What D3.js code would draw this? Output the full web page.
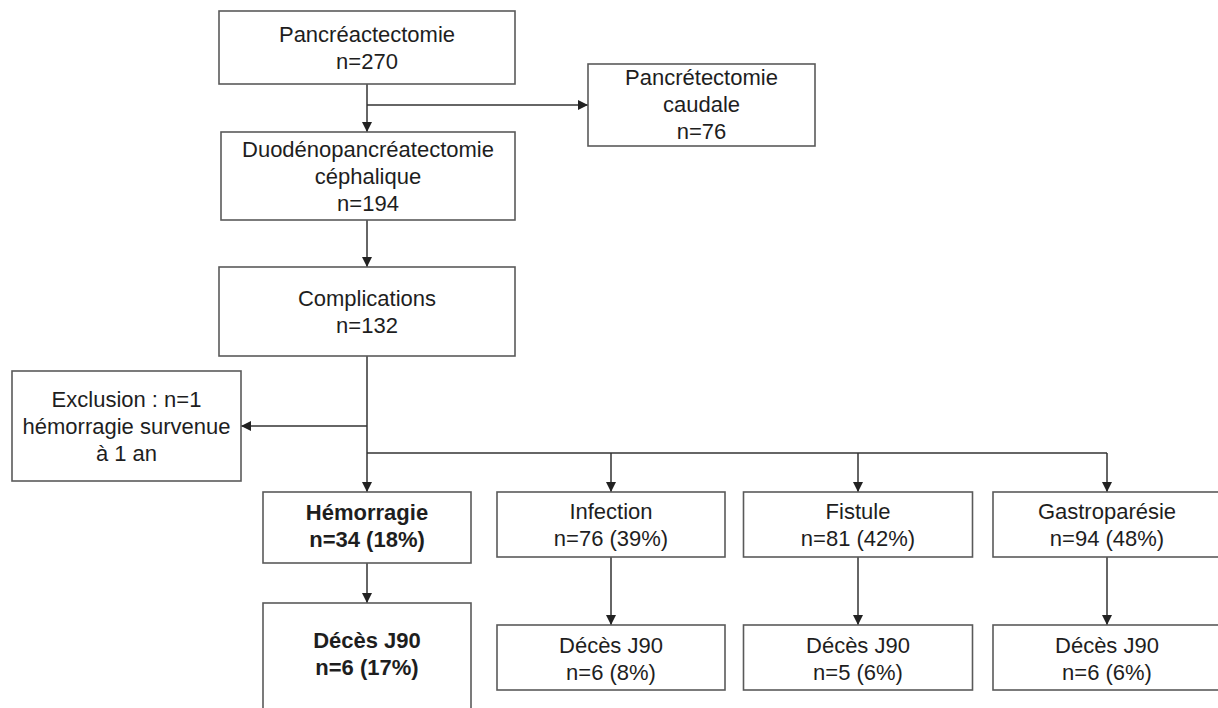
<!DOCTYPE html>
<html>
<head>
<meta charset="utf-8">
<script src="https://cdn.jsdelivr.net/npm/d3@7/dist/d3.min.js"></script>
<style>
  html, body { margin: 0; padding: 0; background: #fff; }
  svg { display: block; }
  text { font-family: "Liberation Sans", Arial, sans-serif; font-size: 22px; fill: #1e1e1e; }
</style>
</head>
<body>
<svg id="chart" width="1218" height="708"></svg>
<script>
// ---------------- DATA ----------------
const mainStages = ["Pancréactectomie", "Duodénopancréatectomie|céphalique", "Complications"];
const mainStageN = [270, 194, 132];
const sideStage = "Pancrétectomie|caudale";
const sideStageN = 76;
const exclusionText = "Exclusion : n=1|hémorragie survenue|à 1 an";
const complications = ["Hémorragie", "Infection", "Fistule", "Gastroparésie"];
const complicationN = [34, 76, 81, 94];
const complicationPct = [18, 39, 42, 48];
const deathLabel = "Décès J90";
const deathN = [6, 6, 5, 6];
const deathPct = [17, 8, 6, 6];

// ---------------- LAYOUT ----------------
const svg = d3.select("#chart");
const LINE = 27;

// column scale for bottom row (centre x of each column)
const colX = d3.scalePoint().domain(complications).range([367, 1107]);
// custom centres measured (slightly uneven spacing)
const colCentre = { "Hémorragie": 367, "Infection": 611, "Fistule": 858, "Gastroparésie": 1107 };
const colHalfW = { "Hémorragie": 104, "Infection": 114, "Fistule": 114.5, "Gastroparésie": 114 };

const nodes = [];
// main column boxes
const mainBoxes = [
  { x0: 219, x1: 515, y0: 11, y1: 84 },
  { x0: 221, x1: 515, y0: 132, y1: 220 },
  { x0: 219, x1: 515, y0: 267, y1: 356 }
];
mainStages.forEach((s, i) => {
  nodes.push(Object.assign({ lines: s.split("|").concat(["n=" + mainStageN[i]]), bold: false, off: 8 }, mainBoxes[i]));
});
nodes.push({ x0: 588, x1: 815, y0: 64, y1: 146, lines: sideStage.split("|").concat(["n=" + sideStageN]), bold: false, off: 7 });
nodes.push({ x0: 12, x1: 241, y0: 371, y1: 481, lines: exclusionText.split("|"), bold: false, off: 8 });
complications.forEach((c, i) => {
  const cx = colCentre[c], hw = colHalfW[c];
  const first = i === 0;
  nodes.push({ x0: cx - hw, x1: cx + hw, y0: 492, y1: first ? 563 : 557,
    lines: [c, "n=" + complicationN[i] + " (" + complicationPct[i] + "%)"], bold: first, off: first ? 6 : 7.5 });
  nodes.push({ x0: cx - hw, x1: cx + hw, y0: first ? 603 : 625, y1: first ? 730 : 690,
    lines: [deathLabel, "n=" + deathN[i] + " (" + deathPct[i] + "%)"], bold: first,
    cyOverride: first ? 652.5 : null, off: 8.5 });
});

// arrowhead marker
svg.append("defs").append("marker")
  .attr("id", "arr").attr("viewBox", "0 0 10 10")
  .attr("refX", 10).attr("refY", 5)
  .attr("markerWidth", 10).attr("markerHeight", 10)
  .attr("markerUnits", "userSpaceOnUse")
  .attr("orient", "auto")
  .append("path").attr("d", "M0,0 L10,5 L0,10 Z").attr("fill", "#222");

// connectors
const cX = 367;
const line = d3.line();
const links = [
  { p: [[cX, 84], [cX, 132]], arrow: true },
  { p: [[cX, 105], [588, 105]], arrow: true },
  { p: [[cX, 220], [cX, 267]], arrow: true },
  { p: [[cX, 356], [cX, 492]], arrow: true },
  { p: [[cX, 426], [241, 426]], arrow: true },
  { p: [[cX, 453], [colCentre["Gastroparésie"], 453]], arrow: false }
];
complications.slice(1).forEach(c => links.push({ p: [[colCentre[c], 453], [colCentre[c], 492]], arrow: true }));
complications.forEach((c, i) => {
  const first = i === 0;
  links.push({ p: [[colCentre[c], first ? 563 : 557], [colCentre[c], first ? 603 : 625]], arrow: true });
});

svg.append("g").selectAll("path").data(links).join("path")
  .attr("d", d => line(d.p))
  .attr("fill", "none")
  .attr("stroke", "#333")
  .attr("stroke-width", 1.5)
  .attr("marker-end", d => d.arrow ? "url(#arr)" : null);

// boxes
const g = svg.append("g").selectAll("g").data(nodes).join("g");
g.append("rect")
  .attr("x", d => d.x0).attr("y", d => d.y0)
  .attr("width", d => d.x1 - d.x0).attr("height", d => d.y1 - d.y0)
  .attr("fill", "#fff").attr("stroke", "#5a5a5a").attr("stroke-width", 1.6);

g.append("text")
  .attr("text-anchor", "middle")
  .style("font-weight", d => d.bold ? "bold" : "normal")
  .each(function (d) {
    const cx = (d.x0 + d.x1) / 2;
    const cy = d.cyOverride != null ? d.cyOverride : (d.y0 + d.y1) / 2;
    const n = d.lines.length;
    d3.select(this).selectAll("tspan").data(d.lines).join("tspan")
      .attr("x", cx)
      .attr("y", (l, k) => cy + d.off + (k - (n - 1) / 2) * LINE)
      .text(l => l);
  });
</script>
</body>
</html>
